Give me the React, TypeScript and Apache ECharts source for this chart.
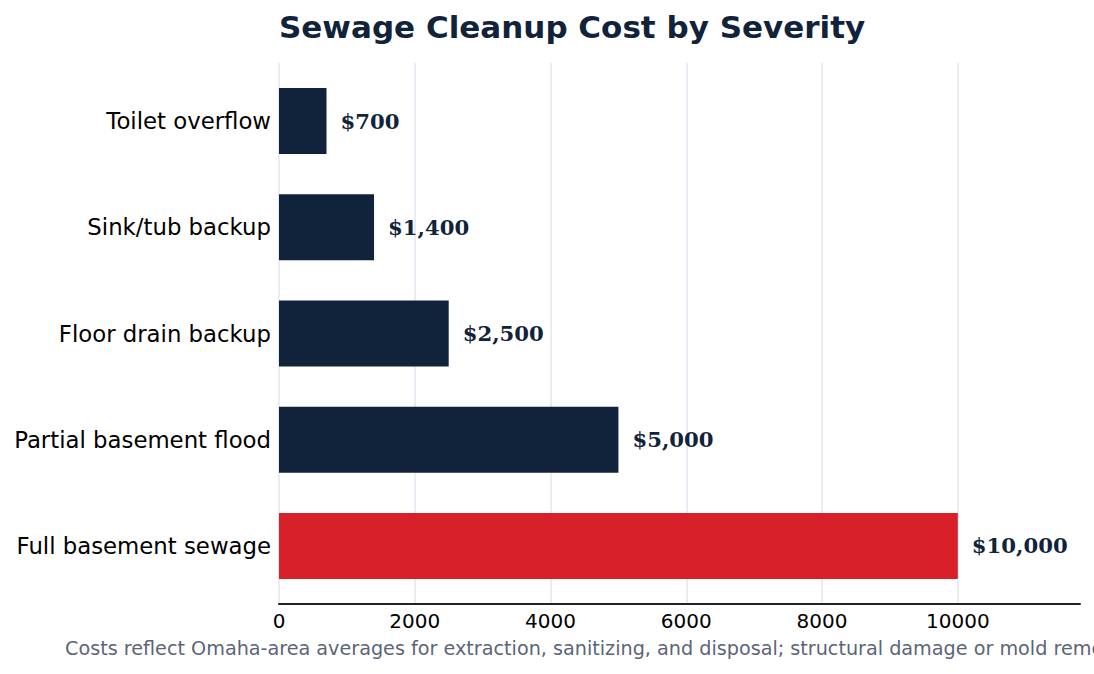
import { useEffect, useRef } from "react";
import * as echarts from "echarts";

const CATEGORIES = [
  "Toilet overflow",
  "Sink/tub backup",
  "Floor drain backup",
  "Partial basement flood",
  "Full basement sewage",
];
const COSTS = [700, 1400, 2500, 5000, 10000];
const HIGHLIGHT = "Full basement sewage";
const X_MAX = 11800;
const X_STEP = 2000;

const NAVY = "#10233a";
const RED = "#d7202a";
const SANS = "'DejaVu Sans', sans-serif";
const SERIF = "'DejaVu Serif', serif";

const TITLE = "Sewage Cleanup Cost by Severity";
const NOTE =
  "Costs reflect Omaha-area averages for extraction, sanitizing, and disposal; structural damage or mold remediation are billed separately.";

const GRID_SIDES = { left: 279, right: 14 };

export default function App() {
  const ref = useRef<HTMLDivElement>(null);
  useEffect(() => {
    if (!ref.current) return;
    const chart = echarts.init(ref.current, null, { renderer: "svg" });
    chart.setOption({
      animation: false,
      backgroundColor: "#ffffff",
      title: [
        {
          text: TITLE, left: 274, top: 6,
          textStyle: { fontFamily: SANS, fontSize: 31, fontWeight: "bold", color: NAVY },
        },
        {
          text: NOTE, left: 60, top: 634,
          textStyle: { fontFamily: SANS, fontSize: 19.2, fontWeight: "normal", color: "#5b6577" },
        },
      ],
      grid: [
        // axis + gridlines
        { ...GRID_SIDES, top: 63, bottom: 70 },
        // bars
        { ...GRID_SIDES, top: 68, bottom: 75 },
      ],
      xAxis: [
        {
          gridIndex: 0, type: "value", min: 0, max: X_MAX, interval: X_STEP,
          axisLine: { show: true, lineStyle: { color: "#222222", width: 2 } },
          axisTick: { show: false },
          axisLabel: {
            fontFamily: SANS, fontSize: 20, color: "#000000", margin: 7,
            showMaxLabel: false,
            formatter: (v: number) => (v % X_STEP === 0 ? String(v) : ""),
          },
          splitLine: { show: true, showMaxLine: false, lineStyle: { color: "#e2e6ee", width: 1.5 } },
        },
        {
          gridIndex: 1, type: "value", min: 0, max: X_MAX,
          axisLine: { show: false }, axisTick: { show: false },
          axisLabel: { show: false }, splitLine: { show: false },
        },
      ],
      yAxis: [
        { gridIndex: 0, type: "category", data: CATEGORIES, show: false },
        {
          gridIndex: 1, type: "category", data: CATEGORIES, inverse: true,
          axisLine: { show: false }, axisTick: { show: false },
          axisLabel: { fontFamily: SANS, fontSize: 22.8, color: "#000000", margin: 8 },
        },
      ],
      series: [
        {
          type: "bar", xAxisIndex: 1, yAxisIndex: 1, barWidth: 66,
          data: COSTS.map((v, i) => ({
            value: v,
            itemStyle: { color: CATEGORIES[i] === HIGHLIGHT ? RED : NAVY },
          })),
          label: {
            show: true, position: "right", distance: 14,
            fontFamily: SERIF, fontSize: 21.2, fontWeight: "bold", color: NAVY,
            formatter: (p: any) => "$" + Number(p.value).toLocaleString("en-US"),
          },
        },
      ],
    });
    return () => chart.dispose();
  }, []);
  return (
    <div
      ref={ref}
      style={{ position: "fixed", left: 0, top: 0, width: 1094, height: 674 }}
    />
  );
}
